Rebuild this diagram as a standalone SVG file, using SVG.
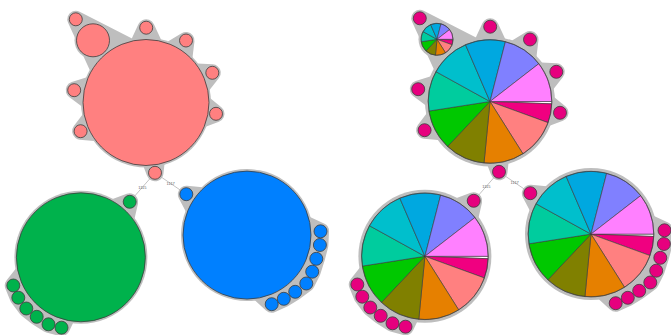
<svg xmlns="http://www.w3.org/2000/svg" xmlns:xlink="http://www.w3.org/1999/xlink" width="671" height="335" viewBox="0 0 671 335">
<style>
.hull{fill:#BEBEBE;stroke:#BEBEBE;stroke-width:17;stroke-linejoin:round}
.disc{fill:#BEBEBE}
.nd{stroke:#3c3c3c;stroke-width:0.8}
.pink{fill:#FF8080}.green{fill:#00B24C}.blue{fill:#0080FF}.dp{fill:#E6007E}
.edge{stroke:#B4B4B4;stroke-width:0.8;fill:none}
.lbl{font-family:"Liberation Sans",Arial,sans-serif;font-size:4px;fill:#666;text-anchor:middle}
.sl{stroke:#3c3c3c;stroke-width:0.6;vector-effect:non-scaling-stroke}
</style>
<defs>
<g id="pie">
<path class="sl" fill="#FFFFFF" d="M0 0L1 0A1 1 0 0 1 0.99926 0.03839Z"/>
<path class="sl" fill="#F00080" d="M0 0L0.99926 0.03839A1 1 0 0 1 0.93969 0.34202Z"/>
<path class="sl" fill="#FF8080" d="M0 0L0.93969 0.34202A1 1 0 0 1 0.5332 0.8460Z"/>
<path class="sl" fill="#E68000" d="M0 0L0.5332 0.8460A1 1 0 0 1 -0.0969 0.9953Z"/>
<path class="sl" fill="#808000" d="M0 0L-0.0969 0.9953A1 1 0 0 1 -0.6862 0.7274Z"/>
<path class="sl" fill="#00C800" d="M0 0L-0.6862 0.7274A1 1 0 0 1 -0.9880 0.1545Z"/>
<path class="sl" fill="#00CC9E" d="M0 0L-0.9880 0.1545A1 1 0 0 1 -0.8755 -0.4831Z"/>
<path class="sl" fill="#00BFCC" d="M0 0L-0.8755 -0.4831A1 1 0 0 1 -0.3960 -0.9182Z"/>
<path class="sl" fill="#00A8E0" d="M0 0L-0.3960 -0.9182A1 1 0 0 1 0.2494 -0.9684Z"/>
<path class="sl" fill="#8080FF" d="M0 0L0.2494 -0.9684A1 1 0 0 1 0.7906 -0.6125Z"/>
<path class="sl" fill="#FF80FF" d="M0 0L0.7906 -0.6125A1 1 0 0 1 1 0Z"/>
<circle class="sl" r="1" fill="none"/>
</g>
</defs>

<g id="hulls-left">
<circle class="disc" cx="146" cy="102.5" r="65"/>
<circle class="disc" cx="93" cy="40.3" r="18.5"/>
<polygon class="hull" points="75.8,19.3 136,50 100,72"/>
<polygon class="hull" points="155.70,48.37 146.2,27.7 136.60,48.31"/>
<polygon class="hull" points="183.38,62.17 186,40.5 167.34,51.81"/>
<polygon class="hull" points="199.33,89.08 212.3,72.8 191.53,71.64"/>
<polygon class="hull" points="197.95,120.56 216,113.8 200.99,101.70"/>
<polygon class="hull" points="94.23,83.95 74.2,90.2 91.01,102.77"/>
<polygon class="hull" points="92.57,115.52 80.6,131.2 100.25,133.0"/>
<polygon class="hull" points="149.16,157.42 155,172.8 156.78,156.44"/>
<circle class="disc" cx="80.9" cy="257.3" r="66.5"/>
<polygon class="hull" points="125.01,221.99 129.7,201.8 110.27,209.03"/>
<polygon class="hull" points="25.77,269.67 13.3,285.5 18.3,297.7 26.3,308.5 36.7,316.8 48.5,324.3 61.5,327.7 69.01,311.74"/>
<circle class="disc" cx="247" cy="235.1" r="66"/>
<polygon class="hull" points="206.69,196.22 186.3,194.2 195.83,212.34"/>
<polygon class="hull" points="301.58,222.54 320.5,231.3 319.9,245 316.3,258.8 312.2,271.7 306.3,283.5 295.2,291.8 283.8,298.8 271.7,304.2 256.41,290.3"/>
</g>
<use id="hulls-right" href="#hulls-left" transform="translate(344,-1)"/>

<g id="connectors">
<line class="edge" x1="155" y1="172.8" x2="129.7" y2="201.8"/>
<line class="edge" x1="155" y1="172.8" x2="186.3" y2="194.2"/>
<line class="edge" x1="499" y1="171.8" x2="473.7" y2="200.8"/>
<line class="edge" x1="499" y1="171.8" x2="530.3" y2="193.2"/>
<text class="lbl" x="142.4" y="188.7">1115</text>
<text class="lbl" x="170.7" y="184.9">1117</text>
<text class="lbl" x="486.4" y="187.7">1115</text>
<text class="lbl" x="514.7" y="183.9">1117</text>
</g>

<g id="left-panel">
<g id="A" class="nd pink"><circle cx="146" cy="102.5" r="63"/></g>
<g id="A-m" class="nd pink"><circle cx="93" cy="40.3" r="16.5"/></g>
<g id="A1" class="nd pink"><circle cx="75.8" cy="19.3" r="6.5"/></g>
<g id="A2" class="nd pink"><circle cx="146.2" cy="27.7" r="6.5"/></g>
<g id="A3" class="nd pink"><circle cx="186" cy="40.5" r="6.5"/></g>
<g id="A4" class="nd pink"><circle cx="212.3" cy="72.8" r="6.5"/></g>
<g id="A5" class="nd pink"><circle cx="216" cy="113.8" r="6.5"/></g>
<g id="A6" class="nd pink"><circle cx="74.2" cy="90.2" r="6.5"/></g>
<g id="A7" class="nd pink"><circle cx="80.6" cy="131.2" r="6.5"/></g>
<g id="A8" class="nd pink"><circle cx="155" cy="172.8" r="6.5"/></g>
<g id="B" class="nd green"><circle cx="80.9" cy="257.3" r="64.5"/></g>
<g id="B1" class="nd green"><circle cx="129.7" cy="201.8" r="6.5"/></g>
<g id="B2" class="nd green"><circle cx="13.3" cy="285.5" r="6.5"/></g>
<g id="B3" class="nd green"><circle cx="18.3" cy="297.7" r="6.5"/></g>
<g id="B4" class="nd green"><circle cx="26.3" cy="308.5" r="6.5"/></g>
<g id="B5" class="nd green"><circle cx="36.7" cy="316.8" r="6.5"/></g>
<g id="B6" class="nd green"><circle cx="48.5" cy="324.3" r="6.5"/></g>
<g id="B7" class="nd green"><circle cx="61.5" cy="327.7" r="6.5"/></g>
<g id="C" class="nd blue"><circle cx="247" cy="235.1" r="64"/></g>
<g id="C0" class="nd blue"><circle cx="186.3" cy="194.2" r="6.5"/></g>
<g id="C1" class="nd blue"><circle cx="320.5" cy="231.3" r="6.5"/></g>
<g id="C2" class="nd blue"><circle cx="319.9" cy="245" r="6.5"/></g>
<g id="C3" class="nd blue"><circle cx="316.3" cy="258.8" r="6.5"/></g>
<g id="C4" class="nd blue"><circle cx="312.2" cy="271.7" r="6.5"/></g>
<g id="C5" class="nd blue"><circle cx="306.3" cy="283.5" r="6.5"/></g>
<g id="C6" class="nd blue"><circle cx="295.2" cy="291.8" r="6.5"/></g>
<g id="C7" class="nd blue"><circle cx="283.8" cy="298.8" r="6.5"/></g>
<g id="C8" class="nd blue"><circle cx="271.7" cy="304.2" r="6.5"/></g>
</g>

<g id="right-panel" transform="translate(344,-1)">
<g id="PA"><use href="#pie" transform="translate(146,102.5) scale(61.8)"/></g>
<g id="PA-m"><use href="#pie" transform="translate(93,40.3) scale(16)"/></g>
<g id="PA1" class="nd dp"><circle cx="75.8" cy="19.3" r="6.5"/></g>
<g id="PA2" class="nd dp"><circle cx="146.2" cy="27.7" r="6.5"/></g>
<g id="PA3" class="nd dp"><circle cx="186" cy="40.5" r="6.5"/></g>
<g id="PA4" class="nd dp"><circle cx="212.3" cy="72.8" r="6.5"/></g>
<g id="PA5" class="nd dp"><circle cx="216" cy="113.8" r="6.5"/></g>
<g id="PA6" class="nd dp"><circle cx="74.2" cy="90.2" r="6.5"/></g>
<g id="PA7" class="nd dp"><circle cx="80.6" cy="131.2" r="6.5"/></g>
<g id="PA8" class="nd dp"><circle cx="155" cy="172.8" r="6.5"/></g>
<g id="PB"><use href="#pie" transform="translate(80.9,257.3) scale(63.3)"/></g>
<g id="PB1" class="nd dp"><circle cx="129.7" cy="201.8" r="6.5"/></g>
<g id="PB2" class="nd dp"><circle cx="13.3" cy="285.5" r="6.5"/></g>
<g id="PB3" class="nd dp"><circle cx="18.3" cy="297.7" r="6.5"/></g>
<g id="PB4" class="nd dp"><circle cx="26.3" cy="308.5" r="6.5"/></g>
<g id="PB5" class="nd dp"><circle cx="36.7" cy="316.8" r="6.5"/></g>
<g id="PB6" class="nd dp"><circle cx="48.5" cy="324.3" r="6.5"/></g>
<g id="PB7" class="nd dp"><circle cx="61.5" cy="327.7" r="6.5"/></g>
<g id="PC"><use href="#pie" transform="translate(247,235.1) scale(62.8)"/></g>
<g id="PC0" class="nd dp"><circle cx="186.3" cy="194.2" r="6.5"/></g>
<g id="PC1" class="nd dp"><circle cx="320.5" cy="231.3" r="6.5"/></g>
<g id="PC2" class="nd dp"><circle cx="319.9" cy="245" r="6.5"/></g>
<g id="PC3" class="nd dp"><circle cx="316.3" cy="258.8" r="6.5"/></g>
<g id="PC4" class="nd dp"><circle cx="312.2" cy="271.7" r="6.5"/></g>
<g id="PC5" class="nd dp"><circle cx="306.3" cy="283.5" r="6.5"/></g>
<g id="PC6" class="nd dp"><circle cx="295.2" cy="291.8" r="6.5"/></g>
<g id="PC7" class="nd dp"><circle cx="283.8" cy="298.8" r="6.5"/></g>
<g id="PC8" class="nd dp"><circle cx="271.7" cy="304.2" r="6.5"/></g>
</g>
</svg>
